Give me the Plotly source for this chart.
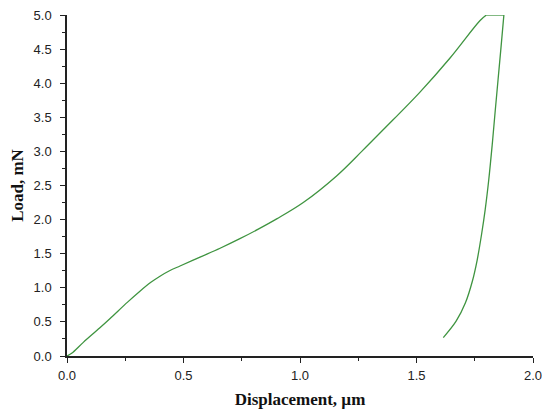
import plotly.graph_objs as go

# loading branch (displacement in um, load in mN)
load_x = [0, 0.02, 0.07, 0.14, 0.185, 0.26, 0.313, 0.36, 0.399, 0.44, 0.485, 0.571,
          0.657, 0.742, 0.821, 0.9, 1.014, 1.157, 1.265, 1.358, 1.515, 1.644, 1.773, 1.80]
load_y = [0, 0.04, 0.2, 0.41, 0.55, 0.79, 0.95, 1.08, 1.17, 1.25, 1.32, 1.45,
          1.58, 1.72, 1.86, 2.01, 2.25, 2.64, 3.0, 3.32, 3.87, 4.37, 4.92, 5.0]

# hold at peak load
hold_x = [1.80, 1.875]
hold_y = [5.0, 5.0]

# unloading branch
unload_x = [1.875, 1.862, 1.850, 1.838, 1.825, 1.81, 1.795, 1.78, 1.76, 1.74, 1.71, 1.67, 1.615]
unload_y = [5.0, 4.5, 4.05, 3.6, 3.1, 2.58, 2.15, 1.8, 1.4, 1.1, 0.78, 0.51, 0.27]

green = '#3f9440'

fig = go.Figure()
for xs, ys, shape in [(load_x, load_y, 'spline'), (hold_x, hold_y, 'linear'),
                      (unload_x, unload_y, 'spline')]:
    fig.add_trace(go.Scatter(x=xs, y=ys, mode='lines',
                             line=dict(color=green, width=1.3, shape=shape),
                             showlegend=False))

tick_font = dict(family='Liberation Sans, Arial', size=13, color='#222')
title_font = dict(family='Liberation Serif, Times New Roman', size=17, color='#111')

axis_common = dict(
    showline=True, linecolor='#222', linewidth=1.5, mirror=False,
    ticks='outside', ticklen=5, tickwidth=1.3, tickcolor='#222',
    showgrid=False, zeroline=False, tickfont=tick_font, automargin=False,
    ticklabeloverflow='allow',
)
minor = dict(dtick=0.25, ticks='outside', ticklen=3, tickwidth=1.3, tickcolor='#222')

fig.update_xaxes(range=[0, 2.0], dtick=0.5, tickformat='.1f', minor=minor,
                 ticklabelstandoff=2,
                 title=dict(text='<b>Displacement, µm</b>', font=title_font, standoff=11),
                 **axis_common)
fig.update_yaxes(range=[0, 5.0], dtick=0.5, tickformat='.1f', minor=minor,
                 ticklabelstandoff=6,
                 title=dict(text='<b>Load, mN</b>', font=title_font, standoff=10),
                 **axis_common)

# page body has an 8px margin, so the figure is shrunk to fit the window
fig.update_layout(width=542, height=404, plot_bgcolor='white', paper_bgcolor='white',
                  margin=dict(l=59, r=17, t=7, b=56))

fig.write_html("out.html")
